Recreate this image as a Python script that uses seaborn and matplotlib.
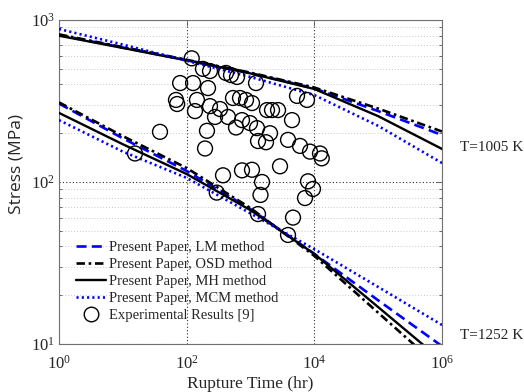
import matplotlib
matplotlib.use("Agg")
import matplotlib.pyplot as plt
import seaborn as sns
import pandas as pd
from matplotlib.lines import Line2D
from matplotlib.ticker import FixedLocator, NullLocator, NullFormatter, FixedFormatter

# ---------------- data ----------------
time_knots = [1, 10, 100, 1e3, 1e4, 1e5, 1e6]

# T = 1005 K
lm_1005 = [808, 676, 566, 470, 378, 274, 195]
osd_1005 = [815, 680, 568, 473, 383, 284, 205]
mh_1005 = [800, 672, 563, 468, 375, 255, 160]
mcm_1005 = [880, 705, 560, 445, 344, 222, 131]

# T = 1252 K
lm_1252 = [305, 186, 117, 68, 36, 18.6, 9.7]
osd_1252 = [310, 192, 122, 69, 35, 15.6, 6.96]
mh_1252 = [267, 171, 112, 67, 36, 16.9, 7.9]
mcm_1252 = [241, 154, 106, 64, 38.5, 22.5, 13.1]

# Experimental results [9]
exp_time = [120, 180, 232, 413, 495, 615, 1220, 79, 126, 216,
             68, 71, 145, 135, 232, 333, 278, 444, 532, 685,
             851, 1056, 1815, 2173, 2700, 5355, 7680, 4470, 593, 736,
             982, 1265, 1312, 1750, 2022, 208, 194, 3870, 5970, 8550,
             12270, 13060, 371, 736, 1056, 2900, 1515, 7960, 9530, 1435,
             7145, 1312, 4635, 3870, 15.5, 38.2, 296]
exp_stress = [580, 499, 484, 471, 457, 445, 408, 408, 408, 380,
              321, 303, 321, 274, 294, 282, 252, 252, 330, 330,
              321, 307, 278, 278, 278, 340, 321, 241, 217, 241,
              231, 215, 179, 176, 200, 207, 161, 182, 167, 154,
              150, 140, 110, 118, 119, 125, 100, 101, 90.6, 83.2,
              79.6, 63.4, 60.3, 47.1, 150, 204, 86]

x_ticks = [1, 1e2, 1e4, 1e6]
x_tick_labels = ["$10^{0}$", "$10^{2}$", "$10^{4}$", "$10^{6}$"]
y_ticks = [10, 100, 1000]
y_tick_labels = ["$10^{1}$", "$10^{2}$", "$10^{3}$"]

legend_labels = ["Present Paper, LM method", "Present Paper, OSD method",
                 "Present Paper, MH method", "Present Paper, MCM method",
                 "Experimental Results [9]"]
temp_labels = ["T=1005 K", "T=1252 K"]

# ---------------- style ----------------
sns.set_style("white")
plt.rcParams["font.family"] = ["Liberation Serif", "DejaVu Serif"]
plt.rcParams["mathtext.fontset"] = "custom"
plt.rcParams["mathtext.rm"] = "Liberation Serif"
plt.rcParams["mathtext.it"] = "Liberation Serif:italic"
plt.rcParams["mathtext.bf"] = "Liberation Serif:bold"

text_col = "#262626"
blue = "#0000ff"

fig = plt.figure(figsize=(5.24, 3.92), dpi=100)
ax = fig.add_axes([59 / 524, 48 / 392, 383 / 524, 324 / 392])
ax.set_xscale("log")
ax.set_yscale("log")

styles = {
    "LM": dict(color=blue, lw=1.9, dashes=(3.8, 2.0)),
    "OSD": dict(color="black", lw=1.9, dashes=(3.2, 1.4, 1.0, 1.4)),
    "MH": dict(color="black", lw=1.7, dashes=""),
    "MCM": dict(color=blue, lw=1.9, dashes=(0.8, 1.2)),
}

series = [
    ("LM", lm_1005), ("OSD", osd_1005), ("MH", mh_1005), ("MCM", mcm_1005),
    ("LM", lm_1252), ("OSD", osd_1252), ("MH", mh_1252), ("MCM", mcm_1252),
]
for name, vals in series:
    st = styles[name]
    df = pd.DataFrame({"t": time_knots, "s": vals})
    line_ax = sns.lineplot(data=df, x="t", y="s", ax=ax, color=st["color"],
                           linewidth=st["lw"], legend=False, zorder=3)
    ln = line_ax.get_lines()[-1]
    if st["dashes"]:
        ln.set_dashes(st["dashes"])
    ln.set_clip_on(True)

exp_df = pd.DataFrame({"t": exp_time, "s": exp_stress})
sns.scatterplot(data=exp_df, x="t", y="s", ax=ax, marker="o", s=115,
                facecolor="none", edgecolor="black", linewidth=1.0,
                legend=False, zorder=4)

ax.set_xlim(1, 1e6)
ax.set_ylim(10, 1000)

ax.xaxis.set_major_locator(FixedLocator(x_ticks))
ax.xaxis.set_major_formatter(FixedFormatter(x_tick_labels))
ax.xaxis.set_minor_locator(NullLocator())
ax.yaxis.set_major_locator(FixedLocator(y_ticks))
ax.yaxis.set_major_formatter(FixedFormatter(y_tick_labels))
minor_y = [v * d for d in (10, 100) for v in range(2, 10)]
ax.yaxis.set_minor_locator(FixedLocator(minor_y))
ax.yaxis.set_minor_formatter(NullFormatter())

ax.tick_params(axis="both", which="major", direction="in", length=4,
               width=0.6, colors="#555555", labelcolor=text_col,
               labelsize=12, top=True, right=True)
ax.tick_params(axis="y", which="minor", direction="in", length=2.5,
               width=0.6, colors="#555555", left=True, right=True)
ax.tick_params(axis="x", which="major", pad=8)
ax.tick_params(axis="y", which="major", pad=3)

ax.grid(which="major", axis="both", color="#303030", linestyle=(0, (1, 2)),
        linewidth=0.8)
ax.grid(which="minor", axis="y", color="#c8c8c8", linestyle=(0, (1, 2)),
        linewidth=0.7)
ax.set_axisbelow(True)

for sp in ax.spines.values():
    sp.set_color("#707070")
    sp.set_linewidth(0.8)

ax.set_xlabel("Rupture Time (hr)", fontsize=12.5, color=text_col, labelpad=2)
ax.set_ylabel("Stress (MPa)", fontsize=12.5, color=text_col,
              family=["Open Sans", "DejaVu Sans"])
ax.yaxis.set_label_coords(-0.089, 0.556)

handles = [
    Line2D([], [], color=blue, lw=1.9, dashes=styles["LM"]["dashes"]),
    Line2D([], [], color="black", lw=1.9, dashes=styles["OSD"]["dashes"]),
    Line2D([], [], color="black", lw=1.7),
    Line2D([], [], color=blue, lw=1.9, dashes=styles["MCM"]["dashes"]),
    Line2D([], [], ls="none", marker="o", markersize=10.5,
           markerfacecolor="none", markeredgecolor="black", markeredgewidth=1.0),
]
leg = ax.legend(handles, legend_labels, loc="lower left", frameon=False,
                fontsize=10.5, handlelength=2.0, handletextpad=0.2,
                labelspacing=0.27, borderaxespad=0.3,
                bbox_to_anchor=(0.019, 0.035))
for t in leg.get_texts():
    t.set_color(text_col)

ax.text(1.047, 0.605, temp_labels[0], transform=ax.transAxes, fontsize=11,
        color=text_col, ha="left", va="center", clip_on=False)
ax.text(1.047, 0.025, temp_labels[1], transform=ax.transAxes, fontsize=11,
        color=text_col, ha="left", va="center", clip_on=False)

fig.savefig("out.png", dpi=100)
